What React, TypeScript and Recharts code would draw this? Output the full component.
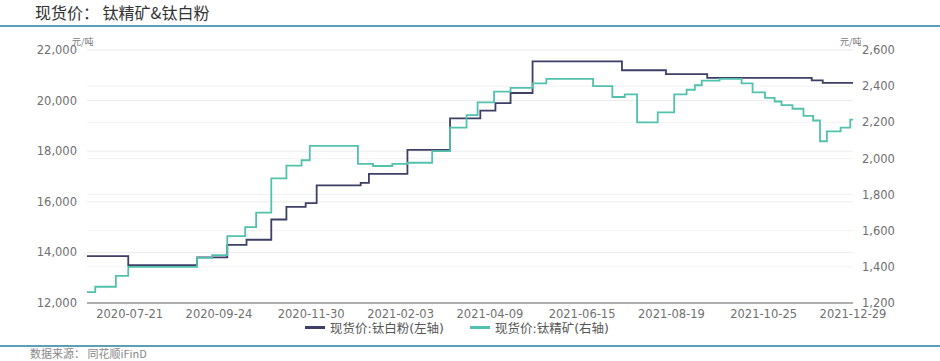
import React from 'react';
import { LineChart, Line, XAxis, YAxis, CartesianGrid, Legend } from 'recharts';

// 现货价:钛白粉 (左轴) — change points (step series)
const tio2Dates = [
  '2020-06-20', '2020-07-20', '2020-09-08', '2020-09-30', '2020-10-14', '2020-11-01',
  '2020-11-12', '2020-11-26', '2020-12-04', '2021-01-05', '2021-01-11', '2021-02-08',
  '2021-03-11', '2021-04-02', '2021-04-13', '2021-04-24', '2021-05-10', '2021-07-14',
  '2021-08-15', '2021-09-14', '2021-11-29', '2021-12-07', '2021-12-29',
];
const tio2Values = [
  13850, 13500, 13800, 14300, 14500, 15300,
  15800, 15950, 16650, 16750, 17100, 18050,
  19300, 19600, 19900, 20300, 21550, 21200,
  21050, 20900, 20800, 20700, 20700,
];

// 现货价:钛精矿 (右轴) — change points (step series)
const ilmDates = [
  '2020-06-20', '2020-06-26', '2020-07-11', '2020-07-20', '2020-09-08', '2020-09-19',
  '2020-09-30', '2020-10-13', '2020-10-21', '2020-11-01', '2020-11-12', '2020-11-23',
  '2020-11-29', '2021-01-03', '2021-01-14', '2021-01-28', '2021-02-08', '2021-02-26',
  '2021-03-11', '2021-03-23', '2021-03-31', '2021-04-12', '2021-04-24', '2021-05-10',
  '2021-05-20', '2021-06-23', '2021-07-07', '2021-07-16', '2021-07-25', '2021-08-09',
  '2021-08-21', '2021-08-30', '2021-09-05', '2021-09-10', '2021-09-23', '2021-10-09',
  '2021-10-17', '2021-10-26', '2021-11-02', '2021-11-07', '2021-11-15', '2021-11-23',
  '2021-11-30', '2021-12-05', '2021-12-10', '2021-12-20', '2021-12-27', '2021-12-29',
];
const ilmValues = [
  1260, 1290, 1350, 1400, 1450, 1465,
  1570, 1620, 1700, 1890, 1960, 1990,
  2070, 1970, 1958, 1970, 1976, 2040,
  2170, 2240, 2310, 2370, 2390, 2415,
  2440, 2400, 2340, 2355, 2200, 2255,
  2355, 2380, 2405, 2430, 2440, 2415,
  2365, 2335, 2315, 2295, 2275, 2235,
  2210, 2095, 2150, 2170, 2215, 2215,
];

const xTickDates = [
  '2020-07-21', '2020-09-24', '2020-11-30', '2021-02-03', '2021-04-09',
  '2021-06-15', '2021-08-19', '2021-10-25', '2021-12-29',
];
const xStart = '2020-06-20';
const xEnd = '2021-12-29';
const leftTicks = [12000, 14000, 16000, 18000, 20000, 22000];
const rightTicks = [1200, 1400, 1600, 1800, 2000, 2200, 2400, 2600];

const seriesNames = ['现货价:钛白粉(左轴)', '现货价:钛精矿(右轴)'];
const colors = ['#3d3f65', '#52c1ad'];

const toT = (s: string) => {
  const [y, m, d] = s.split('-').map(Number);
  return Date.UTC(y, m - 1, d);
};
const fmtDate = (t: number) => new Date(t).toISOString().slice(0, 10);
const fmtNum = (v: number) => v.toLocaleString('en-US');

const tio2Data = tio2Dates.map((d, i) => ({ t: toT(d), v: tio2Values[i] }));
const ilmData = ilmDates.map((d, i) => ({ t: toT(d), v: ilmValues[i] }));

const tickStyle = { fontSize: 11.5, fill: '#707070', fontFamily: 'DejaVu Sans, Noto Sans CJK SC' };

const renderLegend = (props: any) => {
  const { payload } = props;
  return (
    <div style={{ display: 'flex', alignItems: 'center', fontFamily: 'DejaVu Sans, Noto Sans CJK SC', fontSize: 12.5, color: '#555' }}>
      {(payload || []).map((p: any, i: number) => (
        <div key={i} style={{ display: 'flex', alignItems: 'center', marginRight: i === 0 ? 26 : 0 }}>
          <div style={{ width: 20, height: 3, background: p.color, marginRight: 5 }} />
          <span style={{ whiteSpace: 'nowrap' }}>{p.value}</span>
        </div>
      ))}
    </div>
  );
};

export default function App() {
  return (
    <div style={{ position: 'absolute', left: 0, top: 0, width: 940, height: 361, background: '#fff', overflow: 'hidden' }}>
      <div style={{ position: 'absolute', left: 35, top: 2, fontSize: 16, lineHeight: '20px', color: '#333', fontFamily: 'Noto Sans CJK SC', whiteSpace: 'nowrap' }}>
        现货价： 钛精矿&amp;钛白粉
      </div>
      <div style={{ position: 'absolute', left: 0, top: 25, width: 940, height: 1.5, background: '#5b9fb4' }} />
      <div style={{ position: 'absolute', left: 72, top: 35, fontSize: 9, color: '#777', fontFamily: 'Noto Sans CJK SC' }}>元/吨</div>
      <div style={{ position: 'absolute', left: 840, top: 35, fontSize: 9, color: '#777', fontFamily: 'Noto Sans CJK SC' }}>元/吨</div>
      <div style={{ position: 'absolute', left: 0, top: 0 }}>
        <LineChart width={940} height={361} margin={{ top: 50, right: 0, left: 0, bottom: 28 }}>
          <CartesianGrid vertical={false} stroke="#ececec" yAxisId="left" />
          <CartesianGrid vertical={false} stroke="#f2f2f2" yAxisId="right" />
          <XAxis
            dataKey="t"
            type="number"
            domain={[toT(xStart), toT(xEnd)]}
            allowDataOverflow
            ticks={xTickDates.map(toT)}
            tickFormatter={fmtDate}
            interval={0}
            height={30}
            tick={tickStyle}
            tickLine={false}
            tickSize={0}
            tickMargin={7}
            axisLine={{ stroke: '#999', strokeWidth: 1.5 }}
          />
          <YAxis
            yAxisId="left"
            domain={[12000, 22000]}
            ticks={leftTicks}
            tickFormatter={fmtNum}
            width={87}
            tick={tickStyle}
            axisLine={false}
            tickLine={false}
            tickSize={0}
            tickMargin={10}
            allowDataOverflow
          />
          <YAxis
            yAxisId="right"
            orientation="right"
            domain={[1200, 2600]}
            ticks={rightTicks}
            tickFormatter={fmtNum}
            width={87}
            tick={{ ...tickStyle, textAnchor: 'start' }}
            axisLine={false}
            tickLine={false}
            tickSize={0}
            tickMargin={9}
            allowDataOverflow
          />
          <Legend
            layout="horizontal"
            verticalAlign="middle"
            align="center"
            content={renderLegend}
            wrapperStyle={{ top: 318, left: 305, width: 400, height: 18 }}
          />
          <Line
            yAxisId="left"
            data={tio2Data}
            dataKey="v"
            name={seriesNames[0]}
            type="stepAfter"
            stroke={colors[0]}
            strokeWidth={1.8}
            dot={false}
            activeDot={false}
            isAnimationActive={false}
          />
          <Line
            yAxisId="right"
            data={ilmData}
            dataKey="v"
            name={seriesNames[1]}
            type="stepAfter"
            stroke={colors[1]}
            strokeWidth={1.8}
            dot={false}
            activeDot={false}
            isAnimationActive={false}
          />
        </LineChart>
      </div>
      <div style={{ position: 'absolute', left: 0, top: 345, width: 940, height: 1.5, background: '#5b9fb4' }} />
      <div style={{ position: 'absolute', left: 30, top: 346, fontSize: 11, lineHeight: '14px', color: '#888', fontFamily: 'Noto Sans CJK SC', whiteSpace: 'nowrap' }}>
        数据来源： 同花顺iFinD
      </div>
    </div>
  );
}
